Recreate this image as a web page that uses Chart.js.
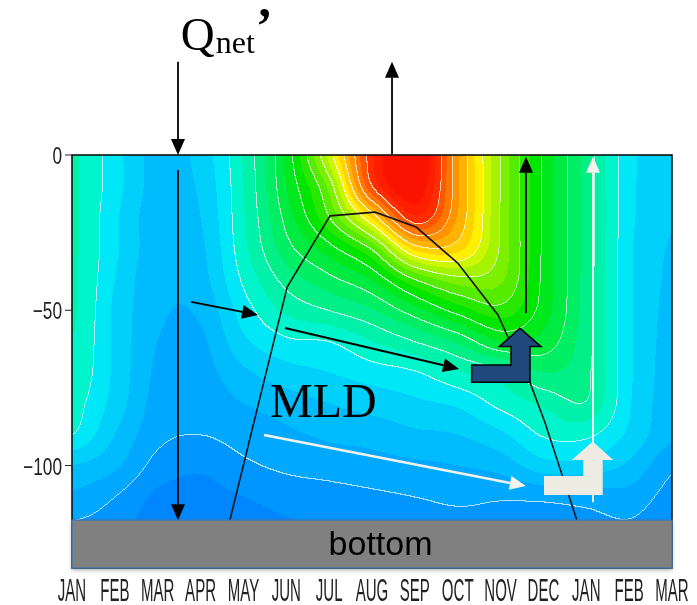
<!DOCTYPE html>
<html>
<head>
<meta charset="utf-8">
<script src="https://cdn.jsdelivr.net/npm/chart.js@4.4.1/dist/chart.umd.min.js"></script>
<style>
  html, body { margin: 0; padding: 0; background: #fff; }
  #wrap { width: 697px; height: 605px; position: relative; }
</style>
</head>
<body>
<div id="wrap"><canvas id="mycanvas"></canvas></div>
<script>
// x axis: one slot per month, JAN .. MAR of the next year
var months = ['JAN','FEB','MAR','APR','MAY','JUN','JUL','AUG','SEP','OCT','NOV','DEC','JAN','FEB','MAR'];
var depthTicks = [0, -50, -100];

// shaded field (arbitrary temperature units), one row per depth, one value per month
var depths = [0, -10, -20, -30, -40, -50, -60, -70, -80, -90, -100, -110, -120, -130];
var row0   = [6.6, 5.7, 4.8, 5.2, 6.55, 8.65, 11.7, 15.4, 16.8, 13.6, 10.95, 8.9, 7.3, 5.65, 5.3];
var row10  = [6.6, 5.7, 4.8, 5.1, 6.5, 8.5, 10.7, 15.0, 16.5, 13.6, 10.95, 8.9, 7.3, 5.65, 5.2];
var row20  = [6.6, 5.6, 4.7, 5.0, 6.45, 8.2, 10.0, 12.6, 15.4, 13.45, 10.93, 8.9, 7.3, 5.65, 5.05];
var row30  = [6.6, 5.6, 4.7, 4.9, 6.35, 7.8, 8.8, 10.1, 12.7, 12.7, 10.9, 8.88, 7.3, 5.6, 4.95];
var row40  = [6.6, 5.5, 4.6, 4.8, 6.1, 7.2, 7.85, 8.55, 10.0, 10.8, 10.6, 8.85, 7.28, 5.6, 4.9];
var row50  = [6.6, 5.4, 4.6, 4.6, 5.75, 6.6, 7.0, 7.45, 8.3, 9.2, 9.8, 8.75, 7.25, 5.6, 4.85];
var row60  = [6.5, 5.4, 4.5, 4.4, 5.4, 5.9, 6.0, 6.5, 7.0, 7.6, 8.5, 8.3, 7.2, 5.6, 4.8];
var row70  = [6.4, 5.4, 4.4, 4.3, 4.9, 5.3, 5.5, 5.75, 5.95, 6.45, 6.8, 7.5, 7.1, 5.6, 4.75];
var row80  = [6.2, 5.3, 4.3, 4.2, 4.5, 4.75, 5.0, 5.2, 5.4, 5.6, 6.15, 6.6, 6.95, 5.55, 4.7];
var row90  = [6.0, 5.0, 4.15, 4.0, 4.2, 4.4, 4.6, 4.7, 4.9, 5.0, 5.4, 6.05, 6.1, 5.4, 4.6];
var row100 = [5.0, 4.6, 3.8, 3.6, 3.9, 4.1, 4.2, 4.3, 4.4, 4.5, 4.7, 5.3, 5.3, 4.9, 4.1];
var row110 = [4.4, 4.0, 3.4, 3.3, 3.5, 3.7, 3.8, 3.9, 4.0, 4.1, 4.05, 4.1, 4.2, 4.3, 3.8];
var row120 = [3.9, 3.7, 3.2, 3.1, 3.2, 3.4, 3.5, 3.6, 3.7, 3.8, 3.8, 3.8, 3.8, 3.9, 3.6];
var row130 = [3.6, 3.5, 3.1, 3.0, 3.0, 3.2, 3.3, 3.4, 3.5, 3.6, 3.6, 3.7, 3.6, 3.7, 3.4];
var field = [row0, row10, row20, row30, row40, row50, row60, row70, row80, row90, row100, row110, row120, row130];

// white contour lines drawn at these levels
var lineLevels = [4, 6, 7, 8, 9, 10, 11, 12, 13, 14, 15];

// mixed layer depth (month position, metres)
var mldMonth = [3.41, 5.02, 6.02, 7.07, 8.03, 9.0, 9.94, 10.17, 10.69, 11.04, 11.78, 12.16];
var mldDepth = [-133, -42.5, -19.6, -18.4, -23.2, -34.8, -51.5, -58.6, -73.4, -86.3, -117.6, -133];

// top of the "bottom" layer (m)
var bottomTop = -117.6;

// shading: band edges and colours
var bandEdges = [3.5, 4, 4.5, 5, 5.5, 6, 6.5, 7, 7.5, 8, 8.5, 9, 9.5, 10, 10.5, 11, 11.5, 12, 12.5, 13, 13.5, 14, 14.5, 15, 15.5, 16];
var bandColors = [
  [0,135,255],[0,150,255],[0,168,255],[0,188,252],[0,208,250],[0,232,248],
  [0,245,205],[0,242,170],[0,240,135],[0,238,100],[0,235,65],[0,232,30],
  [0,230,0],[40,232,0],[85,236,0],[125,240,0],[165,243,0],[205,247,0],
  [255,240,0],[255,210,0],[255,178,0],[255,148,0],[255,118,0],[255,88,0],
  [255,45,0],[255,30,0],[250,20,0]
];

// annotation arrows in (month, depth) coordinates
var arrows = [
  { from: [2.473, 30],     to: [2.473, 0],      color: '#000',    width: 1.8 },
  { from: [2.473, -4.8],   to: [2.473, -117.6], color: '#000',    width: 1.8 },
  { from: [7.467, 0.3],    to: [7.467, 30],     color: '#000',    width: 1.8 },
  { from: [10.593, -50.9], to: [10.593, -0.6],  color: '#000',    width: 1.8 },
  { from: [12.157, -111.8],to: [12.157, -0.6],  color: '#f4f2ec', width: 2 },
  { from: [2.777, -47.3],  to: [4.34, -51.5],   color: '#000',    width: 2 },
  { from: [4.97, -55.7],   to: [9.03, -68.9],   color: '#000',    width: 2 },
  { from: [4.48, -90.2],   to: [10.59, -106.6], color: '#f4f2ec', width: 2.5 }
];
var blueArrowX = [9.326, 10.243, 10.243, 9.970, 10.453, 10.943, 10.687, 10.687, 9.326];
var blueArrowY = [-67.6, -67.6, -61.7, -61.7, -55.8, -61.7, -61.7, -73.2, -73.2];
var paleArrowX = [11.013, 11.931, 11.931, 11.66, 12.15, 12.63, 12.383, 12.383, 11.013];
var paleArrowY = [-103.4, -103.4, -98.2, -98.2, -92.3, -98.2, -98.2, -109.5, -109.5];

function cubic(p0, p1, p2, p3, t) {
  return p1 + 0.5 * t * (p2 - p0 + t * (2 * p0 - 5 * p1 + 4 * p2 - p3 + t * (3 * (p1 - p2) + p3 - p0)));
}
function cell(r, c) {
  r = Math.max(0, Math.min(depths.length - 1, r));
  c = Math.max(0, Math.min(months.length - 1, c));
  return field[r][c];
}

var fieldPlugin = {
  id: 'field',
  beforeDatasetsDraw: function(chart) {
    var a = chart.chartArea, xs = chart.scales.x, ys = chart.scales.y;
    var w = Math.round(a.right - a.left), h = Math.round(a.bottom - a.top);
    var off = document.createElement('canvas');
    off.width = w; off.height = h;
    var octx = off.getContext('2d');
    var img = octx.createImageData(w, h);
    var lvl = new Int16Array(w * h);
    var band = new Int16Array(w * h);
    var nrow = depths.length, ncol = months.length;
    var tmp = [0, 0, 0, 0];
    for (var j = 0; j < h; j++) {
      var d = ys.getValueForPixel(a.top + j + 0.5);
      var r = (depths[0] - d) / (depths[0] - depths[1]);
      if (r < 0) r = 0; if (r > nrow - 1) r = nrow - 1;
      var r0 = Math.min(Math.floor(r), nrow - 2), fr = r - r0;
      for (var i = 0; i < w; i++) {
        var c = xs.getValueForPixel(a.left + i + 0.5);
        if (c < 0) c = 0; if (c > ncol - 1) c = ncol - 1;
        var c0 = Math.min(Math.floor(c), ncol - 2), fc = c - c0;
        for (var k = -1; k <= 2; k++) {
          tmp[k + 1] = cubic(cell(r0 + k, c0 - 1), cell(r0 + k, c0), cell(r0 + k, c0 + 1), cell(r0 + k, c0 + 2), fc);
        }
        var v = cubic(tmp[0], tmp[1], tmp[2], tmp[3], fr);
        var b = 0; while (b < bandEdges.length && v >= bandEdges[b]) b++;
        var l = 0; while (l < lineLevels.length && v >= lineLevels[l]) l++;
        band[j * w + i] = b; lvl[j * w + i] = l;
      }
    }
    for (var p = 0; p < w * h; p++) {
      var col = bandColors[band[p]];
      var rr = col[0], gg = col[1], bb = col[2];
      var i2 = p % w;
      if ((i2 > 0 && lvl[p] !== lvl[p - 1]) || (p >= w && lvl[p] !== lvl[p - w])) {
        rr = rr * 0.3 + 255 * 0.7; gg = gg * 0.3 + 255 * 0.7; bb = bb * 0.3 + 255 * 0.7;
      }
      img.data[p * 4] = rr; img.data[p * 4 + 1] = gg; img.data[p * 4 + 2] = bb; img.data[p * 4 + 3] = 255;
    }
    octx.putImageData(img, 0, 0);
    chart.ctx.drawImage(off, a.left, a.top);
  }
};

function drawArrow(ctx, x1, y1, x2, y2, color, width) {
  var ang = Math.atan2(y2 - y1, x2 - x1), hl = 16, hw = 14;
  var bx = x2 - hl * Math.cos(ang), by = y2 - hl * Math.sin(ang);
  ctx.strokeStyle = color; ctx.lineWidth = width;
  ctx.beginPath(); ctx.moveTo(x1, y1); ctx.lineTo(bx, by); ctx.stroke();
  ctx.fillStyle = color;
  ctx.beginPath();
  ctx.moveTo(x2, y2);
  ctx.lineTo(bx + hw / 2 * Math.sin(ang), by - hw / 2 * Math.cos(ang));
  ctx.lineTo(bx - hw / 2 * Math.sin(ang), by + hw / 2 * Math.cos(ang));
  ctx.closePath(); ctx.fill();
}

function squeezed(ctx, txt, x, y, sx, align) {
  ctx.save();
  ctx.translate(x, y); ctx.scale(sx, 1);
  ctx.textAlign = align;
  ctx.fillText(txt, 0, 0);
  ctx.restore();
}

var overlayPlugin = {
  id: 'overlay',
  afterDatasetsDraw: function(chart) {
    var ctx = chart.ctx, a = chart.chartArea, xs = chart.scales.x, ys = chart.scales.y;
    function px(m) { return xs.getPixelForValue(m); }
    function py(d) { return ys.getPixelForValue(d); }
    ctx.save();

    // outline arrows
    arrows.forEach(function(ar) {
      drawArrow(ctx, px(ar.from[0]), py(ar.from[1]), px(ar.to[0]), py(ar.to[1]), ar.color, ar.width);
    });

    // L-shaped arrows
    function poly(xsArr, ysArr, fill, stroke) {
      ctx.beginPath();
      xsArr.forEach(function(m, k) {
        if (k === 0) ctx.moveTo(px(m), py(ysArr[k])); else ctx.lineTo(px(m), py(ysArr[k]));
      });
      ctx.closePath();
      ctx.fillStyle = fill; ctx.fill();
      if (stroke) { ctx.strokeStyle = stroke; ctx.lineWidth = 1.5; ctx.stroke(); }
    }
    poly(blueArrowX, blueArrowY, '#1f497d', '#000');
    poly(paleArrowX, paleArrowY, '#eeebe2', null);

    // frame of the plot
    ctx.strokeStyle = '#111'; ctx.lineWidth = 1.6;
    ctx.strokeRect(a.left, a.top, a.right - a.left, a.bottom - a.top);

    // "bottom" layer
    var bt = py(bottomTop);
    ctx.save();
    ctx.shadowColor = 'rgba(0,0,0,0.35)'; ctx.shadowBlur = 4; ctx.shadowOffsetY = 2;
    ctx.fillStyle = '#808080';
    ctx.fillRect(a.left, bt, a.right - a.left, a.bottom - bt);
    ctx.restore();
    ctx.strokeStyle = '#4a78aa'; ctx.lineWidth = 1.5;
    ctx.strokeRect(a.left, bt, a.right - a.left, a.bottom - bt);
    ctx.fillStyle = '#000';
    ctx.font = '34px "Liberation Sans", Arial, sans-serif';
    ctx.textAlign = 'center'; ctx.textBaseline = 'alphabetic';
    ctx.fillText('bottom', px(7.2), (bt + a.bottom) / 2 + 11);

    // y ticks and labels
    ctx.fillStyle = '#222'; ctx.strokeStyle = '#222'; ctx.lineWidth = 1;
    ctx.font = '24px "Liberation Sans", Arial, sans-serif';
    depthTicks.forEach(function(t) {
      var y = py(t);
      ctx.beginPath(); ctx.moveTo(a.left - 7, y); ctx.lineTo(a.left, y); ctx.stroke();
      var lab = t < 0 ? '\u2212' + Math.abs(t) : String(t);
      squeezed(ctx, lab, a.left - 10, y + 9, 0.72, 'right');
    });

    // x labels
    ctx.font = '32px "Liberation Sans", Arial, sans-serif';
    months.forEach(function(mn, k) {
      squeezed(ctx, mn, px(k), a.bottom + 33, 0.47, 'center');
    });

    // text annotations
    ctx.fillStyle = '#000';
    ctx.textAlign = 'left';
    ctx.font = '47px "Liberation Serif", "Times New Roman", serif';
    var qx = px(2.54), qy = py(33.8);
    ctx.fillText('Q', qx, qy);
    var qw = ctx.measureText('Q').width;
    ctx.font = '32px "Liberation Serif", "Times New Roman", serif';
    ctx.fillText('net', qx + qw + 1, qy + 3);
    var nw = ctx.measureText('net').width;
    ctx.font = 'bold 50px "Liberation Serif", "Times New Roman", serif';
    ctx.fillText('\u2019', qx + qw + nw + 2, qy - 8);

    ctx.font = '48px "Liberation Serif", "Times New Roman", serif';
    ctx.fillText('MLD', px(4.62), py(-84.4));

    ctx.restore();
  }
};

var mldPoints = mldMonth.map(function(m, k) { return { x: m, y: mldDepth[k] }; });

var ctx = document.getElementById('mycanvas');
var chart = new Chart(ctx, {
  type: 'scatter',
  data: {
    datasets: [{
      label: 'MLD',
      data: mldPoints,
      showLine: true,
      borderColor: '#141414',
      borderWidth: 1.6,
      pointRadius: 0,
      fill: false
    }]
  },
  options: {
    responsive: true,
    maintainAspectRatio: false,
    animation: false,
    events: [],
    layout: { padding: { left: 72, right: 25, top: 155, bottom: 37 } },
    plugins: { legend: { display: false }, tooltip: { enabled: false } },
    scales: {
      x: { type: 'linear', min: 0, max: 14, display: false },
      y: { type: 'linear', min: -133, max: 0, display: false }
    }
  },
  plugins: [fieldPlugin, overlayPlugin]
});
</script>
</body>
</html>
